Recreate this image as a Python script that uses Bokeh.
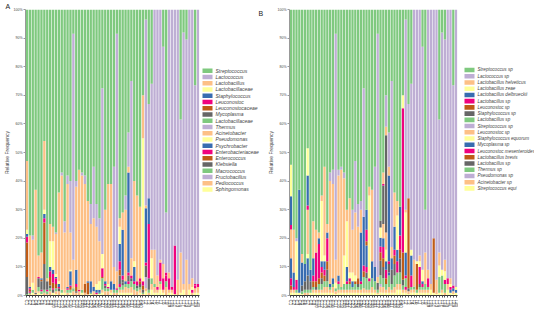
from bokeh.plotting import figure
from bokeh.layouts import row
from bokeh.models import (ColumnDataSource, FactorRange, Range1d, FixedTicker,
                          PrintfTickFormatter, Title)
from bokeh.core.properties import value
from bokeh.embed import file_html
from bokeh.resources import INLINE

samples = ["C1", "C2", "C3", "C4", "C5", "C6", "C7", "C8", "C9", "C10",
           "C11", "C12", "C13", "C14", "C15", "C16", "C17", "C18", "C19", "C20",
           "C21", "C22", "C23", "C24", "C25", "C26", "C27", "C28", "C29", "C30",
           "C31", "C32", "C33", "C34", "C35", "C36", "C37", "C38", "C39", "C40",
           "L1", "L2", "L3", "L4", "L5", "L6", "L7", "L8", "L9", "L1a",
           "L1b", "L1c", "L1d", "L1e", "L1f", "L1g", "L1h", "L1i", "L2a", "L2b"]
y_ticks = [0, 10, 20, 30, 40, 50, 60, 70, 80, 90, 100]

# ---------------- Panel A (genus level) ----------------
a_names = ["Streptococcus", "Lactococcus", "Lactobacillus", "Lactobacillaceae",
           "Staphylococcus", "Leuconostoc", "Leuconostocaceae", "Mycoplasma",
           "Lactobacillaceae", "Thermus", "Acinetobacter", "Pseudomonas",
           "Psychrobacter", "Enterobacteriaceae", "Enterococcus", "Klebsiella",
           "Macrococcus", "Fructobacillus", "Pediococcus", "Sphingomonas"]

a_strep = [53, 79, 79, 63, 86, 85, 46, 94, 75, 76,
           78, 64, 57, 74, 58, 60, 8.5, 60, 56, 57,
           58, 67, 68, 55, 68, 73, 27.5, 70, 61, 61,
           55, 8.5, 73, 71, 65, 43, 25, 60, 65, 69,
           30, 3.5, 33, 26, 0, 0, 0, 13, 71, 0,
           0, 0, 0, 38.5, 8, 10.5, 0, 0, 26.5, 0]
a_lactoc = [0, 0, 1.5, 0, 0, 0, 0, 0, 0, 0,
            0.5, 0, 1, 4, 3, 18, 79, 2, 0, 1,
            3, 0, 7, 18, 8, 8, 58, 0, 0, 0,
            35, 83, 0, 0, 5, 12, 62, 0, 0, 0,
            0, 65, 33, 58, 84, 93, 87.5, 76, 21, 92,
            97, 82.5, 94.5, 46.5, 88, 77, 96, 94, 69.5, 96]
a_lactob = [24, 18, 15, 36, 7.5, 9, 24, 1, 6, 5,
            14, 31, 40, 20, 36, 13, 10, 29, 42, 40,
            35, 28, 20, 24, 20, 14, 0, 25, 35, 34,
            6, 6, 3, 6, 25, 2, 6, 28, 30, 25,
            15, 1, 0, 3, 12, 4, 1, 5, 0, 2,
            0, 0, 5, 14, 0, 12, 0, 3, 0, 0]
a_lbcae = [1.5, 0, 2.5, 0, 0, 0, 1.5, 0, 9, 10,
           1, 1, 0, 0, 0, 0.5, 0, 0, 0, 0,
           0, 0, 0, 0, 2, 3, 5, 0, 1, 0,
           0, 0, 6, 0, 0, 0, 0, 2, 0, 0,
           50, 0, 0, 7, 0, 0, 0, 0, 0, 0,
           0, 0, 0, 0, 0, 0, 0, 1, 0, 0]
a_staph = [1, 0.5, 0, 0, 0, 0.5, 1.5, 0, 1.5, 1.5,
           0.5, 1, 0, 0, 0.5, 5, 0, 5, 0, 0,
           0, 0.5, 4, 1.5, 1, 1, 0, 1, 0, 2,
           2, 0, 6, 16, 1, 35, 0, 5, 0, 0,
           0, 19, 9, 0, 0, 0, 0, 0, 0, 0,
           0, 0, 0, 0, 0, 0, 0, 0, 0, 0]
a_leuc = [2, 0.5, 0, 0, 0.5, 0, 1.5, 0, 2, 3,
          2, 0.5, 0, 0, 0, 0.5, 0, 1, 0, 0,
          0, 0, 0, 0, 0, 0, 3, 0.5, 0.5, 0,
          0, 0, 3, 1.5, 0, 1, 1, 0, 1.5, 1,
          1.5, 1, 19, 0, 0, 0, 6.5, 3, 1, 3,
          0, 17, 0, 0, 0, 0, 0, 0, 0.5, 1]
a_leucae = [12, 0.5, 0, 0, 0, 0.5, 14.5, 0, 3, 2,
            1.5, 0, 0, 0, 0, 1, 0, 1.5, 0, 0,
            3, 4, 0, 0, 0, 0, 0.5, 0, 0, 0,
            0, 0, 2, 0, 0, 0, 0, 0, 0, 1,
            1.5, 0, 0, 0, 0, 0, 0, 0, 0, 0,
            0, 0, 0, 0, 0, 0, 0, 0, 0, 0]
a_myco = [6, 0, 0, 0, 3, 3, 9, 3, 1, 0,
          0, 0, 0, 0, 0, 0, 0, 0, 0, 0,
          0, 0, 0, 0, 0, 0, 0, 0, 0, 0,
          0, 0, 3, 1, 0, 2, 0, 0, 1, 0,
          1, 4, 4, 0, 0, 0, 0, 0, 0, 0,
          0, 0, 0, 0, 0, 0, 0, 0, 0, 0]
a_lbcae2 = [0, 0, 0, 0, 0, 0, 0, 0, 0, 0,
            0, 0, 0, 0, 0, 0, 0, 0, 0, 0,
            0, 0, 0, 0, 0, 0, 0, 0, 0, 0,
            0, 0, 0, 0, 0, 0, 0, 0, 0, 0,
            0, 0, 0, 0, 0, 0, 0, 0, 0, 0,
            0, 0, 0, 0, 0, 0, 0, 0, 0, 0]
a_thermus = [0, 0, 0, 0, 0, 0, 0, 0, 0, 0,
             0, 0, 0, 0, 0, 0, 0, 0, 0, 0,
             0, 0, 0, 0, 0, 0, 0, 0, 0, 0,
             0, 0, 0, 0, 0, 0, 0, 0, 0, 0,
             0, 0, 0, 0, 0, 0, 0, 0, 0, 0,
             0, 0, 0, 0, 0, 0, 0, 0, 0, 0]
a_acineto = [0, 0, 0, 0, 0, 0, 0, 0, 0, 0,
             0, 0, 0, 0, 0, 0, 0, 0, 0, 0,
             0, 0, 0, 0, 0, 0, 0, 0, 0, 0,
             0, 0, 0, 0, 0, 0, 0, 0, 0, 0,
             0, 0, 0, 0, 0, 0, 0, 0, 0, 0,
             0, 0, 0, 0, 0, 0, 0, 0, 0, 0]
a_pseudo = [0, 0, 0, 0, 0, 0, 0, 0, 0, 0,
            0, 0, 0, 0, 0, 0, 0, 0, 0, 0,
            0, 0, 0, 0, 0, 0, 0, 0, 0, 0,
            0, 0, 0, 0, 0, 0, 0, 0, 0, 0,
            0, 0, 0, 0, 0, 0, 0, 0, 0, 0,
            0, 0, 0, 0, 0, 0, 0, 0, 0, 0]
a_psychro = [0, 0, 0, 0, 0, 0, 0, 0, 0, 0,
             0, 0, 0, 0, 0, 0, 0, 0, 0, 0,
             0, 0, 0, 0, 0, 0, 0, 0, 0, 1,
             0, 0, 0, 0, 0, 0, 0, 0, 0, 0,
             0, 0, 0, 0, 0, 0, 0, 0, 0, 0,
             0, 0, 0, 0, 0, 0, 0, 0, 0, 0]
a_enterob = [0, 0.5, 0, 0, 0, 0.5, 0, 0.5, 0, 0.5,
             0, 0, 0, 0, 0.5, 0, 0, 0, 0.5, 0,
             0, 0, 0, 0, 0.5, 0, 0, 0, 0, 0,
             0, 0.5, 1, 0, 0, 1, 0, 1, 0, 0,
             0, 0, 0, 0, 0, 1, 0, 1, 2, 1,
             1, 0, 0, 0, 0, 0, 0, 1, 1, 0]
a_enteroc = [0, 0, 0, 0, 0, 0, 0, 0, 0, 0,
             0, 0, 0, 0, 0, 0, 0, 0, 0, 0,
             0, 0, 0, 0, 0, 0, 0, 0, 0, 0,
             0, 0, 0, 0, 0, 0, 0, 0, 0, 0,
             0, 0, 0, 0, 0, 0, 0, 0, 0, 0,
             0, 0, 0, 0, 0, 0, 0, 0, 0, 0]
a_klebs = [0, 0, 0, 0.5, 0, 0, 0, 0, 0, 1,
           0, 1, 0, 0, 0, 0, 0, 0.5, 0, 0,
           0, 0, 0, 0, 0, 0, 0, 1, 0, 0,
           0, 0, 0, 1, 0, 0, 1, 0, 0, 1,
           0, 0, 0, 0, 0, 0, 0, 0, 0, 0,
           0, 0, 0, 0, 0, 0, 0, 0, 0, 0]
a_macro = [0.5, 0.5, 1, 0, 1.5, 1, 1, 1, 1, 0,
           1, 0, 1, 0, 1, 1, 1, 0, 0, 1,
           0, 0, 0.5, 0, 0, 0.5, 4, 1, 1, 0,
           1, 1, 1, 1.5, 1, 1.5, 2, 2, 1, 1,
           0.5, 0, 1, 2, 1, 0, 1, 0, 2, 0,
           0, 0, 0, 0, 0, 0, 0, 0, 0, 0]
a_fructo = [0, 0, 0, 0, 0, 0, 0, 0, 0, 0,
            0, 0, 0, 0, 0, 0, 0, 0, 0, 0,
            0, 0, 0, 0, 0, 0, 0, 0, 0, 0,
            0, 0, 0, 0, 0, 0, 0, 0, 0, 0,
            0, 4, 0, 0, 0, 0, 0, 0, 0, 0,
            0, 0, 0, 0, 0, 0, 0, 0, 0, 0]
a_pedio = [0, 0.5, 0, 0.5, 0.5, 0, 1, 0.5, 1.5, 0,
           1, 1.5, 0, 1, 1, 0, 1.5, 1, 1.5, 0,
           1, 0.5, 0, 1.5, 0.5, 0, 1, 1.5, 1.5, 1,
           1, 1, 1, 1, 2, 1.5, 2, 2, 1.5, 1,
           0.5, 1, 1, 2, 2, 1, 2, 1, 3, 1,
           1, 0.5, 0.5, 0, 2, 0.5, 2, 1, 1.5, 2]
a_sphingo = [0, 0, 1, 0, 1, 0.5, 0, 0, 0, 1,
             0.5, 0, 1, 1, 0, 1, 0, 0, 0, 1,
             0, 0, 0.5, 0, 0, 0.5, 1, 0, 0, 1,
             0, 0, 1, 1, 1, 1, 1, 0, 0, 1,
             0, 1.5, 0, 2, 1, 1, 2, 1, 0, 1,
             1, 0, 0, 1, 2, 0, 2, 0, 1, 1]

# ---------------- Panel B (species level) ----------------
b_names = ["Streptococcus sp", "Lactococcus sp", "Lactobacillus helveticus",
           "Lactobacillus zeae", "Lactobacillus delbrueckii", "Lactobacillus sp",
           "Leuconostoc sp", "Staphylococcus  sp", "Lactobacillus sp",
           "Streptococcus sp", "Leuconostoc sp", "Staphylococcus equorum",
           "Mycoplasma sp", "Leuconostoc mesenteroides", "Lactobacillus brevis",
           "Lactobacillus sp", "Thermus sp", "Pseudomonas sp", "Acinetobacter sp",
           "Streptococcus equi"]

b_strep = [54, 77, 80, 63, 85.5, 89, 48.5, 91, 74, 77,
           78, 65, 55, 75, 57, 56, 8.5, 56, 55, 57,
           70, 66, 70, 53, 68, 67, 27.5, 70, 62, 63,
           55, 8.5, 73, 57, 30, 43, 25, 64, 67, 69,
           30, 3.5, 33, 26, 0, 0, 0, 13, 70, 0,
           0, 0, 0, 38.5, 8, 10.5, 0, 0, 26.5, 0]
b_lactoc = [0, 0, 1, 0, 0, 0, 0, 0, 0, 0,
            0, 0, 0, 0, 3, 5, 79, 2, 1, 2,
            0, 0, 7, 18, 8, 3, 45, 0, 0, 0,
            35, 85, 0, 0, 11, 12, 58, 0, 0, 0,
            0, 66.5, 33, 58, 84, 88, 86, 78, 15, 91,
            96, 80, 94.5, 46.5, 83, 77, 94, 94, 70, 97]
b_helv = [0, 0, 0, 0, 0, 0, 0, 0, 0, 0,
          0, 0, 31, 3, 36, 33, 8, 35, 41, 27,
          4, 26, 15, 22, 18, 8, 0, 0, 3, 25,
          0, 2, 0, 4, 3, 3, 0, 12, 5, 0,
          0, 1, 0, 0, 0, 0, 2, 0, 11, 3,
          0, 0, 5, 4.5, 0, 4, 0, 2, 0, 0]
b_zeae = [11, 0, 0, 0, 0, 0, 9.5, 0, 0, 0,
          0, 0, 0, 0, 0, 0, 2, 0, 0, 10,
          16, 2, 3, 2, 0, 0, 0, 0, 29, 0,
          0, 0, 0, 0, 0, 0, 0, 0, 12, 0,
          4.5, 14, 0, 2, 0, 1, 2, 4, 0, 0,
          0, 0, 0, 4, 2, 3, 0, 1, 0, 1]
b_delb = [10, 0, 0, 36, 0, 0, 10.5, 0, 0, 0,
          0, 0, 0, 0, 0, 2, 0, 0, 0, 0,
          0, 0, 2, 0, 0, 17, 17, 7, 0, 6,
          5, 0, 0, 0, 0, 30, 0, 8, 4, 10,
          0, 8, 0, 7, 0, 0, 0, 1, 0, 0,
          0, 0, 0, 0, 0, 0, 0, 0, 0, 0]
b_lbsp = [1.5, 0, 0, 0, 0, 0, 1.5, 0, 0, 0,
          0, 0, 0, 0, 0, 0, 0, 0, 0, 0,
          0, 1, 0, 0, 0, 1, 2, 4, 0, 0,
          0, 0, 0, 0.5, 0, 1, 0, 2, 2, 5,
          50.5, 1, 0, 4, 0, 0, 6, 1, 0, 3,
          0, 0, 0, 0, 0, 1.5, 0, 1, 1, 0]
b_leucsp = [0, 0, 0, 0, 0, 0, 0, 0, 0, 0,
            0, 0, 0, 0, 0, 0, 0, 0, 0, 0,
            0, 0, 0, 0, 2, 0, 0, 1.5, 0, 0,
            0, 0, 0, 0, 0, 0, 0, 3, 0, 3,
            9.5, 0, 31.5, 0, 0, 9, 0, 0, 0, 0,
            0, 19, 0, 0, 0, 0, 0, 0, 0, 0]
b_staphsp = [0, 0, 0, 0, 0, 0, 0, 0, 0, 0,
             0, 0, 0, 0, 0, 0, 0, 0, 0, 0,
             0, 0, 0, 0, 0, 0, 0, 0, 0, 0,
             0, 0, 2.5, 13.5, 34, 3, 0, 4, 0, 5,
             2, 0, 0, 0, 0, 0, 1, 0, 0, 0,
             0, 0, 0, 0, 0, 0, 0, 0, 0, 0]
b_lbsp2 = [0, 0, 0, 0, 0, 0, 0, 0, 0, 0,
           0, 0, 0, 0, 0, 0, 0, 0, 0, 0,
           0, 0, 0, 0, 0, 0, 0, 0, 0, 0,
           0, 0, 0, 0, 0, 0, 0, 0, 0, 0,
           0, 3, 0, 0, 0, 0, 0, 0, 0, 0,
           0, 0, 0, 5.5, 5, 3, 0, 0, 0, 0]
b_strepsp2 = [0, 0, 0, 0, 0, 0, 0, 0, 0, 0,
              0, 0, 0, 0, 0, 0, 0, 0, 0, 0,
              0, 0, 0, 0, 0, 0, 0, 0, 0, 0,
              0, 0, 0, 0, 0, 0, 0, 0, 0, 0,
              0, 0, 0, 0, 0, 0, 0, 0, 0, 0,
              0, 0, 0, 0, 0, 0, 0, 0, 0, 0]
b_leucsp2 = [10, 15, 0, 0, 3, 0, 15.5, 0, 13, 8,
             2, 2, 0, 0, 0, 0, 0, 0, 0, 0,
             0, 0, 0, 0, 0, 0, 0, 0, 0, 0,
             0, 0, 0, 5, 6, 0, 4, 0, 0, 0,
             0, 0, 0, 0, 9, 0, 0, 0, 0, 0,
             0, 0, 0, 0, 0, 0, 0, 0, 0, 0]
b_equorum = [0, 0, 13.5, 0, 0, 0, 1.5, 0, 0, 0,
             0, 21, 2, 0, 0, 0, 0, 0, 0, 0,
             0, 0, 0, 0, 0, 0, 0, 0, 0, 0,
             0, 0, 3.5, 0, 4, 0, 0, 0, 0, 0,
             0, 0, 0, 0, 0, 0, 0, 0, 0, 0,
             0, 0, 0, 0, 0, 0, 0, 0, 0, 0]
b_myco = [7, 5, 0, 0, 8, 6, 6, 4, 6, 0,
          2, 2, 3, 2, 1, 0, 0, 2, 0, 0,
          5, 0, 0, 0, 0, 0, 0, 7.5, 0, 0,
          0, 0, 3, 3, 3, 1, 4, 0, 0, 0,
          0, 0, 0, 0, 0, 0, 0, 0, 0, 0,
          0, 0, 0, 0, 0, 0, 0, 1, 1, 1]
b_mesent = [2.5, 1, 3.5, 0, 0, 0, 0, 0, 2, 10,
            12, 2, 2, 8, 0, 0, 0, 1, 0, 0,
            1, 0, 0, 0, 0, 0, 0, 2, 1, 0,
            0, 0, 2, 4, 3, 0, 0, 0, 2, 0,
            0, 1, 0, 0, 0, 0, 0, 0, 0, 0,
            0, 0, 0, 0, 0, 0, 2, 0, 0, 0]
b_brevis = [1.5, 0, 0, 0, 0, 0, 0, 0, 2, 2,
            2, 2, 2, 3, 0, 0, 0, 0, 0, 0,
            0, 1, 0, 1, 0, 0, 2, 0, 0, 0,
            0, 0, 3, 3, 2, 0, 0, 0, 0, 0,
            0, 0, 0, 0, 0, 0, 0, 0, 0, 0,
            0, 0, 0, 0, 0, 0, 0, 0, 0, 0]
b_lbsp3 = [0, 0, 0, 0, 2, 3, 5, 3, 0, 1,
           0, 2, 0, 4, 0, 0, 0, 0, 0, 0,
           0, 0, 0, 0, 1, 0, 0, 2, 0, 0,
           0, 2.5, 5, 4, 0, 0, 5, 0, 0, 0,
           0, 0, 1, 0, 0, 0, 0, 0, 0, 0,
           0, 0, 0, 0, 0, 0, 0, 0, 0, 0]
b_thermus = [0, 0, 1, 0, 1, 1, 1, 1, 1, 0,
             2, 2, 2, 2, 1, 1, 1, 2, 1, 2,
             2, 2, 1, 2, 1, 2, 4, 4, 3, 3,
             3, 1, 3, 3, 2, 4, 2, 4, 4, 4,
             1.5, 0, 0, 1, 1, 1, 1, 1, 2, 1,
             0, 0, 0, 0, 0, 0, 0, 0, 0, 0]
b_pseudo = [0, 0, 0, 0, 0, 0, 0, 0, 0, 0,
            0, 0, 0, 0, 0, 0, 0, 0, 0, 0,
            0, 0, 0, 0, 0, 0, 0, 0, 0, 0,
            0, 0, 1, 0, 0, 0, 0, 0, 0, 0,
            0, 0, 0, 0, 0, 0, 0, 0, 0, 0,
            0, 0, 0, 0, 0, 0, 0, 0, 0, 0]
b_acineto = [1, 1, 0, 0, 0, 1, 1, 0, 1, 1,
             1, 1, 2, 2, 1, 2, 1, 1, 1, 1,
             1, 1, 1, 1, 1, 1, 1.5, 1, 1, 2,
             1, 0.5, 2, 2, 1, 2, 1, 2, 2, 2,
             1, 1, 1, 1, 1, 0, 1, 1, 1, 1,
             2, 0, 0, 0, 1, 1, 2, 0, 1, 0]
b_equi = [1, 1, 1, 1, 0.5, 0, 0, 1, 1, 1,
          1, 1, 1, 1, 1, 1, 0.5, 1, 1, 1,
          1, 1, 1, 1, 1, 1, 1, 1, 1, 1,
          1, 0.5, 1, 1, 1, 1, 1, 1, 2, 2,
          1, 1, 0.5, 1, 1, 1, 1, 1, 1, 1,
          2, 1, 0.5, 1, 1, 0, 2, 1, 0.5, 1]

a_series = [a_strep, a_lactoc, a_lactob, a_lbcae, a_staph, a_leuc, a_leucae, a_myco,
            a_lbcae2, a_thermus, a_acineto, a_pseudo, a_psychro, a_enterob, a_enteroc,
            a_klebs, a_macro, a_fructo, a_pedio, a_sphingo]
b_series = [b_strep, b_lactoc, b_helv, b_zeae, b_delb, b_lbsp, b_leucsp, b_staphsp,
            b_lbsp2, b_strepsp2, b_leucsp2, b_equorum, b_myco, b_mesent, b_brevis,
            b_lbsp3, b_thermus, b_pseudo, b_acineto, b_equi]

ACCENT = ["#7fc97f", "#beaed4", "#fdc086", "#ffff99", "#386cb0", "#f0027f", "#bf5b17", "#666666"]
FONT = "Liberation Sans"
H = 313
TOP = 8


def make_panel(series, width, b_left, tag, tag_offset):
    n = len(samples)
    totals = [sum(s[i] for s in series) for i in range(n)]
    data = {"x": samples}
    keys = []
    for k, s in enumerate(series):
        key = "s%d" % k
        data[key] = [v * 100.0 / t for v, t in zip(s, totals)]
        keys.append(key)
    src = ColumnDataSource(data)
    p = figure(x_range=FactorRange(factors=samples), y_range=Range1d(0, 100),
               width=width, height=H, output_backend="svg", toolbar_location=None,
               min_border_left=b_left, min_border_right=1,
               min_border_top=TOP, min_border_bottom=18)
    p.add_layout(Title(text=tag, align="left", offset=tag_offset, standoff=0,
                       text_font_size="7px", text_font=FONT, text_font_style="normal",
                       text_color="#222222"), "above")
    colors = [ACCENT[k % 8] for k in range(len(series))]
    p.vbar_stack(keys[::-1], x="x", width=0.8, fill_color=colors[::-1],
                 line_color=None, source=src)

    p.xgrid.visible = False
    p.ygrid.visible = False
    p.outline_line_color = None

    p.yaxis.ticker = FixedTicker(ticks=y_ticks)
    p.yaxis.formatter = PrintfTickFormatter(format="%d%%")
    p.yaxis.axis_label = "Relative Frequency"
    p.yaxis.axis_label_text_font_size = "5px"
    p.yaxis.axis_label_text_font_style = "normal"
    p.yaxis.axis_label_text_font = FONT
    p.yaxis.axis_label_standoff = 1
    p.yaxis.major_label_text_font_size = "3.5px"
    p.yaxis.major_label_text_font = FONT
    p.yaxis.major_label_standoff = 1
    p.yaxis.minor_tick_line_color = None
    p.yaxis.major_tick_out = 2
    p.yaxis.major_tick_in = 0
    p.yaxis.axis_line_color = "#999999"
    p.yaxis.major_tick_line_color = "#999999"

    p.xaxis.major_label_orientation = "vertical"
    p.xaxis.major_label_text_font_size = "4.5px"
    p.xaxis.major_label_text_font = FONT
    p.xaxis.major_label_standoff = 2
    p.xaxis.major_tick_out = 2
    p.xaxis.major_tick_in = 0
    p.xaxis.axis_line_color = "#333333"
    p.xaxis.major_tick_line_color = "#555555"
    return p


def make_legend(names, width, sw_x, first_y, pitch, font_size, tag=None, tag_x=0):
    # legend drawn in its own small figure whose data units are pixels
    q = figure(width=width, height=H, x_range=Range1d(0, width), y_range=Range1d(0, H),
               output_backend="svg", toolbar_location=None, x_axis_type=None,
               y_axis_type=None, min_border=0, min_border_left=0, min_border_right=0,
               min_border_top=0, min_border_bottom=0)
    q.outline_line_color = None
    q.xgrid.visible = False
    q.ygrid.visible = False
    m = len(names)
    ys = [H - (first_y - TOP + pitch * k) for k in range(m)]
    cols = [ACCENT[k % 8] for k in range(m)]
    q.rect(x=[sw_x + 5] * m, y=ys, width=10, height=5, fill_color=cols, line_color=None)
    q.text(x=[sw_x + 13] * m, y=ys, text=names, text_font=value(FONT),
           text_font_size=value(font_size), text_font_style="italic",
           text_color="#444444", text_baseline="middle", text_align="left")
    if tag:
        q.text(x=[tag_x], y=[H - 1], text=[tag], text_font=value(FONT),
               text_font_size=value("7px"), text_color="#222222",
               text_baseline="top", text_align="left")
    return q


pA = make_panel(a_series, 200, 20, "A", -20)
legA = make_legend(a_names, 64, 2, 75, 6.84, "5px", tag="B", tag_x=58)
pB = make_panel(b_series, 194, 17, " ", 0)
legB = make_legend(b_names, 76, 6, 74.2, 6.82, "4.6px")

layout = row(pA, legA, pB, legB)
open("out.html", "w").write(file_html(layout, INLINE))
